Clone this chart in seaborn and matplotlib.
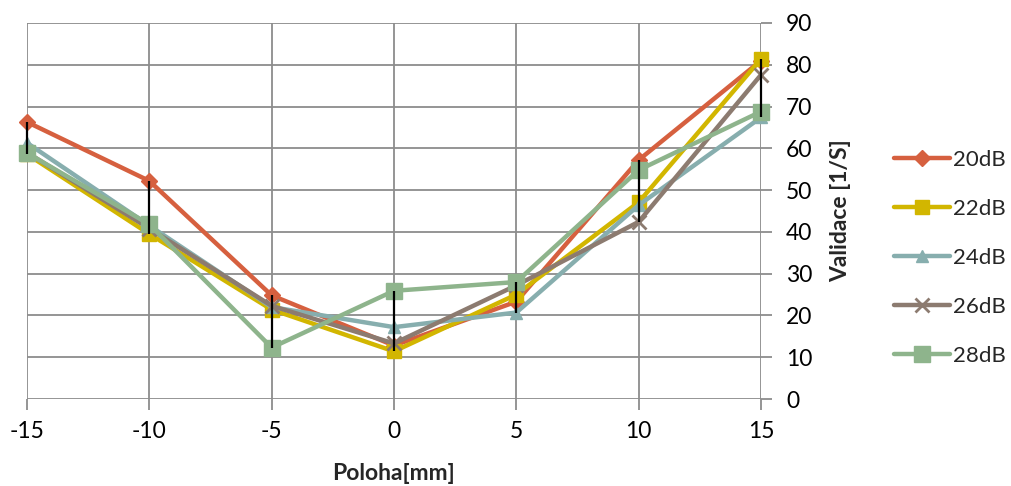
import numpy as np
import pandas as pd
import matplotlib
matplotlib.use("Agg")
import matplotlib.pyplot as plt
import seaborn as sns

# Measured validity per position for each attenuation level
poloha = [-15, -10, -5, 0, 5, 10, 15]
db20 = [66.3, 52.2, 24.8, 12.8, 23.3, 57.2, 81.0]
db22 = [58.6, 39.5, 21.4, 11.4, 25.0, 47.1, 81.4]
db24 = [61.3, 41.5, 22.0, 17.2, 20.7, 46.4, 67.4]
db26 = [59.0, 40.8, 22.3, 13.3, 27.2, 42.4, 77.6]
db28 = [58.9, 41.8, 12.3, 25.9, 28.0, 54.8, 68.8]
series_names = ["20dB", "22dB", "24dB", "26dB", "28dB"]

series = [db20, db22, db24, db26, db28]
df = pd.DataFrame({
    "Poloha": poloha * len(series),
    "Validace": sum(series, []),
    "Série": np.repeat(series_names, len(poloha)),
})

colors = ["#D6603F", "#D2B600", "#87AEAE", "#8C7B70", "#8EB48C"]
markers = ["D", "s", "^", "x", "s"]
msizes = [8, 10, 9, 10, 11]

sns.set_theme(style="white")
plt.rcParams["font.family"] = ["Lato", "DejaVu Sans"]
plt.rcParams["axes.unicode_minus"] = False

fig = plt.figure(figsize=(10.11, 4.86), dpi=100)
ax = fig.add_axes([27 / 1011, 1 - 399 / 486, (761 - 27) / 1011, (399 - 23) / 486])

sns.lineplot(data=df, x="Poloha", y="Validace", hue="Série", palette=colors,
             linewidth=3.2, legend=False, ax=ax, sort=False, zorder=3)
for line, mk, ms, col in zip(ax.get_lines(), markers, msizes, colors):
    line.set_marker(mk)
    line.set_markersize(ms)
    line.set_markerfacecolor(col)
    line.set_markeredgecolor(col)
    line.set_markeredgewidth(2 if mk == "x" else 1)
    line.set_solid_capstyle("round")
    line.set_clip_on(False)

# High-low lines across all series at each position
arr = np.array(series)
ax.vlines(poloha, arr.min(axis=0), arr.max(axis=0), colors="black",
          linewidth=1.6, zorder=4, clip_on=False)

ax.set_xlim(-15, 15)
ax.set_ylim(0, 90)
ax.set_xticks(poloha)
ax.set_yticks(range(0, 91, 10))
ax.yaxis.tick_right()
ax.yaxis.set_label_position("right")
ax.grid(True, color="#8C8C8C", linewidth=1.3, zorder=0)
ax.set_axisbelow(True)
for s in ax.spines.values():
    s.set_visible(False)
ax.tick_params(axis="both", which="both", direction="out", length=8, width=1.3,
               color="#8C8C8C", labelsize=16.5, labelcolor="black")
ax.tick_params(axis="x", bottom=True, pad=8)
ax.tick_params(axis="y", right=True, left=False, pad=10)

ax.set_xlabel("Poloha[mm]", fontsize=16.5, fontweight="bold", labelpad=15)
ax.set_ylabel("Validace [1/S]", fontsize=16.5, fontweight="bold", labelpad=13)

handles = [plt.Line2D([], [], color=c, marker=m, markersize=ms, linewidth=3.2,
                      markeredgewidth=2 if m == "x" else 1, solid_capstyle="round")
           for c, m, ms in zip(colors, markers, msizes)]
fig.legend(handles, series_names, loc="center left", bbox_to_anchor=(894 / 1011, 1 - 258 / 486),
           frameon=False, fontsize=16, handlelength=2.5, handletextpad=0.15,
           labelspacing=1.3, borderaxespad=0, borderpad=0)

fig.savefig("out.png", dpi=100)
